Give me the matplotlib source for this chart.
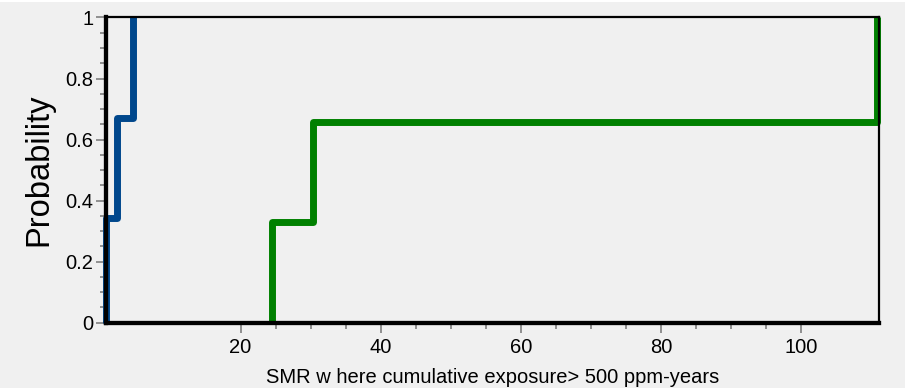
import numpy as np
import matplotlib.pyplot as plt
from matplotlib.patches import Rectangle
from matplotlib.ticker import FixedLocator, MultipleLocator

plt.rcParams['font.family'] = ['Liberation Sans', 'DejaVu Sans']

# Empirical CDF steps of SMR values for the two groups
blue_smr = [0.8, 2.35, 4.7]
green_smr = [24.5, 30.3, 110.8]
blue_prob = [0.343, 0.671, 1.0]
green_prob = [0.329, 0.657, 1.0]

x_min, x_max = 0.8, 111.1
x_ticks = [20, 40, 60, 80, 100]
x_minor = [25, 30, 35, 45, 50, 55, 65, 70, 75, 85, 90, 95]
y_ticks = [0, 0.2, 0.4, 0.6, 0.8, 1]
y_labels = ['0', '0.2', '0.4', '0.6', '0.8', '1']


def step_path(xs, ys):
    px, py = [xs[0]], [0.0]
    for i, (x, y) in enumerate(zip(xs, ys)):
        px.append(x)
        py.append(y)
        if i + 1 < len(xs):
            px.append(xs[i + 1])
            py.append(y)
    return px, py


bg = '#f0f0f0'
fig = plt.figure(figsize=(9.12, 3.88), dpi=100, facecolor='white')
fig.add_artist(Rectangle((0, 0), 905 / 912, 386 / 388, transform=fig.transFigure,
                         facecolor=bg, edgecolor='none', zorder=-10))
ax = fig.add_axes([0.1162, 0.1688, 0.8476, 0.7861], facecolor=bg)

bx, by = step_path(blue_smr, blue_prob)
gx, gy = step_path(green_smr, green_prob)
ax.plot(bx, by, color='#00478c', lw=5, solid_joinstyle='round', solid_capstyle='butt',
        clip_on=False, zorder=3)
ax.plot(gx, gy, color='#008000', lw=5, solid_joinstyle='round', solid_capstyle='butt',
        clip_on=False, zorder=3)

ax.set_xlim(x_min, x_max)
ax.set_ylim(0, 1)
ax.set_xticks(x_ticks)
ax.set_yticks(y_ticks)
ax.set_yticklabels(y_labels)
ax.xaxis.set_minor_locator(FixedLocator(x_minor))
ax.yaxis.set_minor_locator(MultipleLocator(0.05))

ax.tick_params(which='major', direction='out', length=7, width=1.2, color='#808080',
               labelsize=14.5, labelcolor='black', pad=2)
ax.tick_params(which='minor', direction='out', length=4, width=1.2, color='#808080')
ax.tick_params(axis='x', which='major', pad=4)
ax.tick_params(top=False, right=False)

for side in ['left', 'bottom']:
    ax.spines[side].set_linewidth(3.1)
for side in ['top', 'right']:
    ax.spines[side].set_linewidth(1.6)
for sp in ax.spines.values():
    sp.set_color('black')
    sp.set_zorder(4)

ax.set_xlabel('SMR w here cumulative exposure> 500 ppm-years', fontsize=14.5, labelpad=8)
ax.set_ylabel('Probability', fontsize=23.5, labelpad=8)

fig.savefig('out.png', dpi=100, facecolor='white')
